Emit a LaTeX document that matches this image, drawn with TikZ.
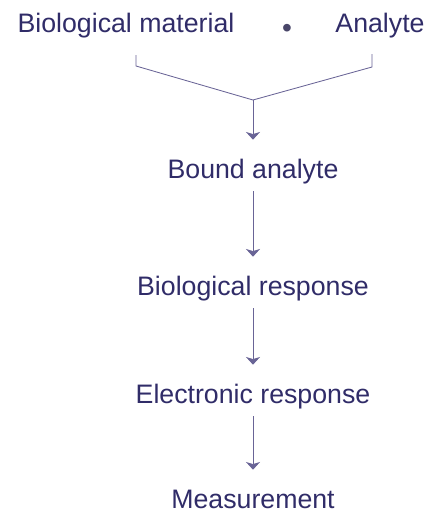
\documentclass[tikz,border=0pt]{standalone}
\usepackage{fontspec}
\setmainfont{Liberation Sans}
\usetikzlibrary{arrows.meta}
\definecolor{inkblue}{RGB}{48,44,104}
\definecolor{lineblue}{RGB}{105,100,150}
\begin{document}
\begin{tikzpicture}[x=0.025cm, y=-0.025cm,
  stage/.style={anchor=base, text=inkblue, font=\fontsize{19}{22}\selectfont,
    text height=0.625cm, text depth=0pt, inner xsep=0pt, inner ysep=0.325cm},
  link/.style={draw=lineblue, line width=0.6pt},
  flow/.style={link, -{Stealth[width=10pt,length=5.5pt,inset=1.5pt]}}]
  \useasboundingbox (0,0) rectangle (429,514);

  % Top row
  \node[stage] (bm) at (126,32) {Biological material};
  \node[stage, font=\fontsize{20}{22}\selectfont, text=lineblue!70!black] (plus) at (287,37) {•};
  \node[stage] (an) at (380,32) {Analyte};

  % Bracket joining the top row
  \coordinate (lt) at (136,55);
  \coordinate (lb) at (136,66);
  \coordinate (rt) at (372,54);
  \coordinate (rb) at (372,67);
  \coordinate (join) at (253,100);
  \draw[link] (lt) -- (lb) -- (join) -- (rb) -- (rt);

  % Chain of stages
  \node[stage] (ba) at (253,178) {Bound analyte};
  \node[stage] (br) at (253,295) {Biological response};
  \node[stage] (er) at (253,403) {Electronic response};
  \node[stage] (ms) at (253,508) {Measurement};

  % Arrows
  \draw[flow] (join) -- (ba);
  \draw[flow] (ba) -- (br);
  \draw[flow] (br) -- (er);
  \draw[flow] (er) -- (ms);
\end{tikzpicture}
\end{document}
